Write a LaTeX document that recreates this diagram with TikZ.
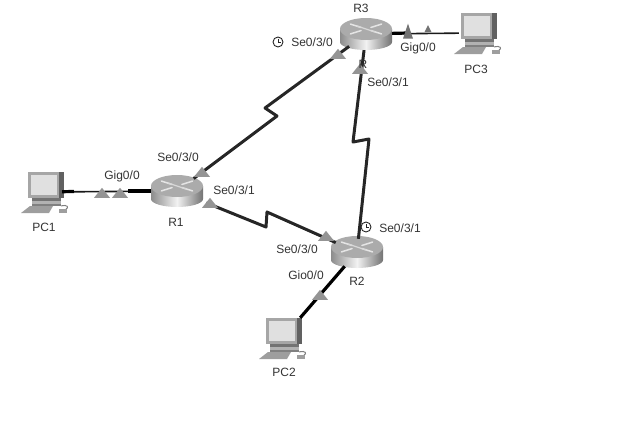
\documentclass[tikz,border=0pt]{standalone}
\usepackage{fontspec}
\setmainfont{Liberation Sans}
\usetikzlibrary{shapes.geometric}

\begin{document}
\begin{tikzpicture}[
  x=1pt,y=-1pt,
  hub/.style={ellipse,minimum width=52pt,minimum height=32pt,inner sep=0pt},
  station/.style={rectangle,minimum width=36pt,minimum height=40pt,inner sep=0pt},
  serial/.style={draw=black!85,line width=3pt,line join=round},
  wire/.style={draw=black!90,line width=1.6pt},
  wirethick/.style={draw=black,line width=3.2pt},
  lbl/.style={font=\fontsize{12}{12}\selectfont,text=black!80,inner sep=0pt},
  tri/.style={isosceles triangle,isosceles triangle stretches,shape border rotate=90,fill=black!42,minimum width=16pt,minimum height=10pt,inner sep=0pt},
  trinarrow/.style={tri,fill=black!55,minimum height=15pt,minimum width=10pt},
  routerpic/.pic={
    \path[left color=black!45,right color=black!55,middle color=black!5]
      (-26,-5) -- (-26,8) arc[start angle=180,end angle=0,x radius=26,y radius=8] -- (26,-5) -- cycle;
    \fill[black!33] (0,-5) ellipse[x radius=26,y radius=11];
    \foreach \a in {35,145,215,325}
      \draw[white!90!black,line width=1.5pt,line cap=round,shift={(0,-5)},yscale=0.45,rotate=\a] (6,0) -- (19,0);
    \draw[white!85!black,line width=1.2pt] (-9,-8) -- (9,-2);
  },
  pcpic/.pic={
    \fill[black!62] (-16,-20) rectangle (20,6);
    \fill[black!35] (-16,-20) rectangle (15,6);
    \fill[black!12] (-13,-17) rectangle (13,3);
    \fill[black!55] (-12,6) rectangle (17,9);
    \fill[black!30] (-12,9) rectangle (17,12);
    \fill[black!50] (-12,12) rectangle (17,14);
    \fill[black!38] (-14,14) -- (9,14) -- (5,21) -- (-23,21) -- cycle;
    \draw[black!50,line width=1pt] (17,14) .. controls (24,12) and (25,16) .. (22,17);
    \fill[black!38] (15,17) rectangle (23,21);
  },
  clockpic/.pic={
    \draw[black!85,line width=0.9pt] (0,0) circle[radius=5];
    \draw[black!85,line width=0.9pt] (0,-3) -- (0,0) -- (3,0);
  }
]
% routers and end stations
\node[hub] (r1) at (177,191) {};
\node[hub] (r2) at (357,252) {};
\node[hub] (r3) at (366,34) {};
\node[station] (pc1) at (44,192) {};
\node[station] (pc2) at (282,338) {};
\node[station] (pc3) at (477,33) {};
\foreach \n in {r1,r2,r3} \pic at (\n) {routerpic};
\foreach \n in {pc1,pc2,pc3} \pic at (\n) {pcpic};

% serial links, each with its jog
\draw[serial] (r1) -- (277,116) -- (265,108) -- (r3);
\draw[serial,shorten <=8pt] (r1) -- (266,227) -- (267,212) -- (r2);
\draw[serial,shorten >=-3pt] (r3) -- (353,142) -- (369,139) -- (r2);

% links to the stations, heavier near their ends
\coordinate (pc1stub) at (74,191.5);
\coordinate (r1stub) at (128,191);
\coordinate (r3stub) at (408,33);
\draw[wire] (pc1) -- (r1);
\draw[wirethick] (pc1) -- (pc1stub);
\draw[wirethick] (r1) -- (r1stub);
\draw[wire] (pc3) -- (r3);
\draw[wirethick] (r3) -- (r3stub);
\draw[wirethick] (pc2.north east) -- (r2);

% link lights
\foreach \x/\y/\n in {102/194/a,120/194/b,202/173/c,210/204/d,338/55/e,360/70/f,326/237/g,320/296/h}
  \node[tri] (tri\n) at (\x,\y) {};
\node[trinarrow] (trii) at (408,35) {};
\node[trinarrow,minimum height=7pt,minimum width=7pt] (trij) at (428,30) {};

% clocks
\pic (clockone) at (278,42) {clockpic};
\pic (clocktwo) at (366,227) {clockpic};

% interface labels
\node[lbl] (l1) at (312,42) {Se0/3/0};
\node[lbl] (l2) at (418,48) {Gig0/0};
\node[lbl] (l3) at (388,82) {Se0/3/1};
\node[lbl] (l4) at (363,64) {R};
\node[lbl] (l5) at (178,157) {Se0/3/0};
\node[lbl] (l6) at (122,176) {Gig0/0};
\node[lbl] (l7) at (234,190) {Se0/3/1};
\node[lbl] (l8) at (297,249) {Se0/3/0};
\node[lbl] (l9) at (400,228) {Se0/3/1};
\node[lbl] (l10) at (306,275) {Gio0/0};

% device names
\node[lbl] (nr1) at (176,222) {R1};
\node[lbl] (nr2) at (357,281) {R2};
\node[lbl] (nr3) at (361,8) {R3};
\node[lbl] (npc1) at (44,227) {PC1};
\node[lbl] (npc2) at (284,372) {PC2};
\node[lbl] (npc3) at (476,69) {PC3};
\useasboundingbox (0,0) rectangle (634,440);
\end{tikzpicture}
\end{document}
